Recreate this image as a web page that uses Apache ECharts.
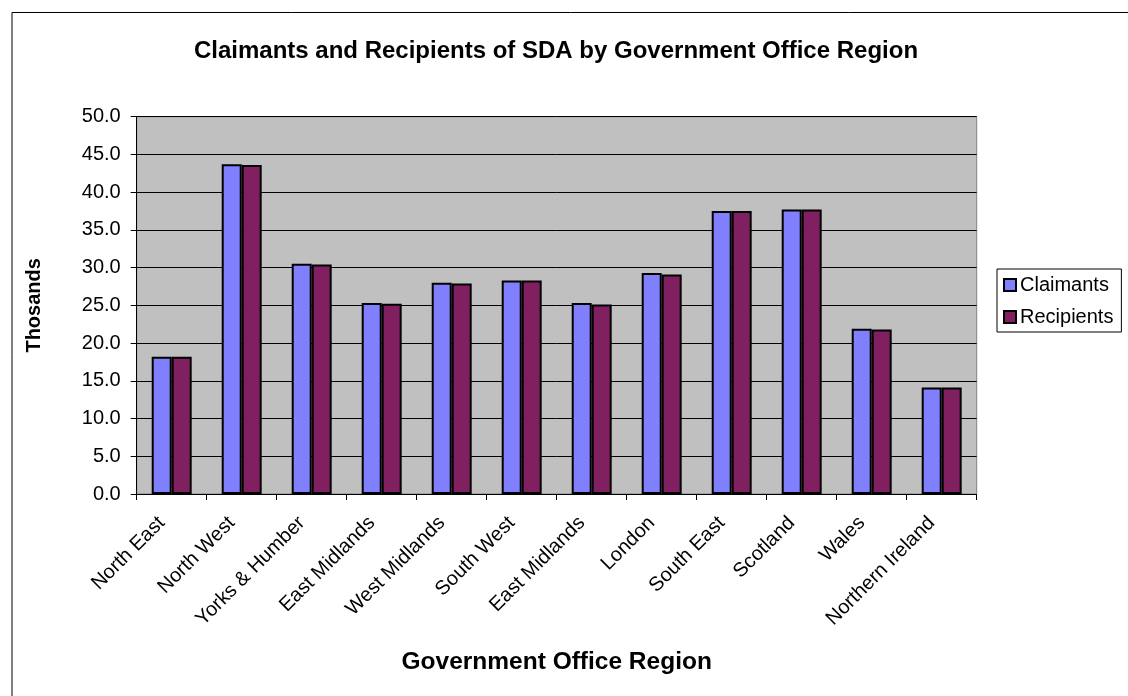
<!DOCTYPE html>
<html>
<head>
<meta charset="utf-8">
<script src="https://cdn.jsdelivr.net/npm/echarts@6/dist/echarts.min.js"></script>
<style>
html,body{margin:0;padding:0;background:#fff;}
#chart{width:1128px;height:696px;}
</style>
</head>
<body>
<div id="chart"></div>
<script>
const categories = ["North East","North West","Yorks & Humber","East Midlands","West Midlands","South West","East Midlands ","London","South East","Scotland","Wales","Northern Ireland"];
const claimants = [18.2,43.7,30.5,25.3,28.0,28.3,25.3,29.3,37.5,37.7,21.9,14.1];
const recipients = [18.2,43.6,30.4,25.2,27.9,28.3,25.1,29.1,37.5,37.7,21.8,14.1];
const yTicks = {min:0,max:50,interval:5};

const FONT = '"Liberation Sans", Arial, sans-serif';
const chart = echarts.init(document.getElementById('chart'));
chart.setOption({
  animation:false,
  backgroundColor:'#ffffff',
  textStyle:{fontFamily:FONT},
  title:{
    text:'Claimants and Recipients of SDA by Government Office Region',
    left:551, textAlign:'center', top:34,
    textStyle:{fontFamily:FONT,fontSize:24,fontWeight:'bold',color:'#000'}
  },
  legend:{
    orient:'vertical',
    left:997, top:269,
    padding:[6,8,5,6],
    itemWidth:12, itemHeight:12, itemGap:12,
    icon:'rect',
    borderColor:'#000', borderWidth:1,
    backgroundColor:'#fff',
    textStyle:{fontFamily:FONT,fontSize:20,color:'#000',padding:[0,0,0,-1]},
    data:['Claimants','Recipients']
  },
  grid:{
    left:136.7, right:151.3, top:116.7, bottom:202,
    show:true, backgroundColor:'#c0c0c0', borderColor:'#808080', borderWidth:1
  },
  xAxis:{
    type:'category',
    data:categories,
    name:'Government Office Region',
    nameLocation:'middle', nameGap:156,
    nameTextStyle:{fontFamily:FONT,fontSize:24.5,fontWeight:'bold',color:'#000',verticalAlign:'top'},
    axisLine:{lineStyle:{color:'#000',width:1}},
    axisTick:{show:true,alignWithLabel:false,length:6,lineStyle:{color:'#000'}},
    axisLabel:{rotate:45,margin:16,padding:[0,14,0,0],fontFamily:FONT,fontSize:20,color:'#000',interval:0,
      formatter:v=>v.trim()},
    splitLine:{show:false}
  },
  yAxis:{
    type:'value',
    min:yTicks.min, max:yTicks.max, interval:yTicks.interval,
    name:'Thosands',
    nameLocation:'middle', nameGap:92, nameRotate:90,
    nameTextStyle:{fontFamily:FONT,fontSize:20,fontWeight:'bold',color:'#000'},
    axisLine:{show:true,lineStyle:{color:'#000',width:1}},
    axisTick:{show:true,inside:false,length:6,lineStyle:{color:'#000'}},
    axisLabel:{margin:16,fontFamily:FONT,fontSize:20,color:'#000',formatter:v=>v.toFixed(1)},
    splitLine:{show:true,lineStyle:{color:'#000',width:1}}
  },
  series:[
    {name:'Claimants',type:'bar',data:claimants,barGap:'0%',barCategoryGap:'42.9%',
     itemStyle:{color:'#8080ff',borderColor:'#000',borderWidth:2}},
    {name:'Recipients',type:'bar',data:recipients,barGap:'0%',barCategoryGap:'42.9%',
     itemStyle:{color:'#802060',borderColor:'#000',borderWidth:2}}
  ],
  graphic:[
    {type:'rect',left:9.5,top:10,shape:{x:0,y:0,width:1200,height:800},
     style:{fill:'none',stroke:'#000',lineWidth:1},silent:true,z:-1}
  ]
});
</script>
</body>
</html>
